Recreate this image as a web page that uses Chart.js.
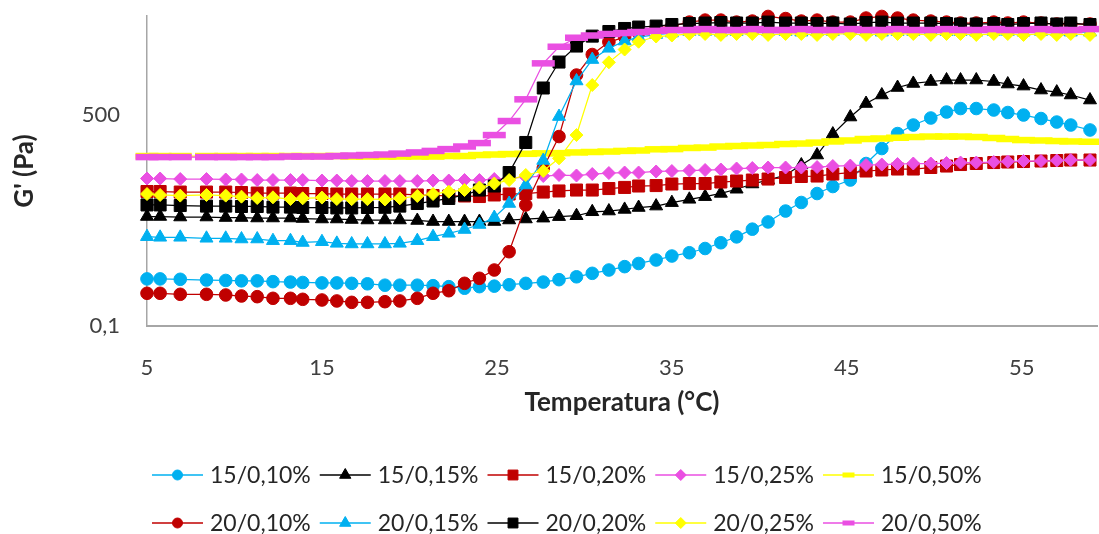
<!DOCTYPE html>
<html>
<head>
<meta charset="utf-8">
<script src="https://cdn.jsdelivr.net/npm/chart.js@4.4.1/dist/chart.umd.min.js"></script>
<style>
  html, body { margin:0; padding:0; background:#fff; overflow:hidden; }
</style>
</head>
<body>
<canvas id="chart" width="1099" height="534"></canvas>
<script>
// temperature (°C) of each measurement point
const temps = [5.0,5.75,6.9,8.4,9.5,10.4,11.3,12.2,13.2,13.9, 15.0,15.85,16.7,17.6,18.6,19.45,20.45,21.35,22.25,23.15,
  24.0,24.85,25.7,26.65,27.65,28.55,29.55,30.45,31.4,32.3, 33.1,34.1,35.0,36.0,36.9,37.8,38.7,39.6,40.5,41.5,
  42.4,43.3,44.2,45.2,46.1,47.0,47.9,48.8,49.8,50.7, 51.5,52.4,53.4,54.2,55.1,56.1,57.0,57.8,58.9];

// G' (Pa) per series
const g15_010 = [0.67,0.67,0.66,0.64,0.63,0.62,0.62,0.60,0.59,0.58, 0.57,0.57,0.56,0.55,0.52,0.52,0.52,0.51,0.49,0.46,
  0.49,0.50,0.53,0.56,0.59,0.65,0.73,0.84,0.96,1.10, 1.25,1.44,1.69,1.93,2.29,2.89,3.66,5.0,6.7,10.4,
  14.7,21.1,28.0,36.4,71,130,238,336,446,568, 654,654,616,557,503,437,379,336,275];
const g15_015 = [8.34,8.34,8.17,8.17,8.0,8.0,7.85,7.85,7.85,7.69, 7.54,7.54,7.39,7.24,7.24,7.24,7.1,6.81,6.81,6.81,
  6.81,6.81,7.24,7.54,7.8,8.3,8.6,10.1,10.4,11.1, 12.0,12.7,14.6,16.7,18.6,21.2,25.1,31.0,36.4,44.6,
  66.8,100,233,464,801,1130,1530,1800,1950,2070, 2070,2070,1950,1760,1620,1380,1270,1130,922];
const g15_020 = [22.9,22.9,22.4,22.4,22.4,22.0,21.5,21.5,21.5,21.1, 21.1,20.7,20.7,20.7,20.7,20.7,19.9,19.5,19.1,19.1,
  18.7,19.9,20.7,21.1,22.4,23.4,24.3,24.3,25.8,27.0, 28.6,29.1,31.0,31.6,31.6,33.6,35.0,36.4,37.9,40.3,
  42.0,42.8,46.4,49.3,52.4,54.6,56.8,56.8,60.4,64.1, 68.1,71.0,73.8,75.4,76.9,78.5,80.1,81.7,81.7];
const g15_025 = [38.7,38.7,37.9,37.9,37.2,37.2,36.4,36.4,36.4,36.4, 35.7,35.7,35.0,35.0,35.0,35.0,35.0,35.7,35.7,36.4,
  36.4,37.9,39.5,41.1,42.8,44.6,43.7,46.4,48.3,49.3, 49.3,51.4,52.4,53.5,54.6,55.7,58.0,59.1,60.4,60.4,
  60.4,61.5,64.1,65.3,66.8,68.1,69.5,71.0,71.0,72.4, 73.8,73.8,75.4,76.9,78.5,78.5,80.1,81.7,81.7];
const g15_050 = [96,96,96,96,96,96,96,96,96,96, 96,96,94,94,94,94,94,94,96,96,
  100,102,104,105,107,108,111,113,115,118, 120,126,127,133,135,141,144,147,150,156,
  159,165,173,180,191,195,201,207,211,211, 211,207,199,191,183,180,176,173,171];
const g20_010 = [0.375,0.375,0.36,0.36,0.35,0.336,0.327,0.306,0.306,0.294, 0.286,0.275,0.26,0.26,0.267,0.275,0.306,0.375,0.416,0.561,
  0.687,0.96,2.01,13.3,59,211,2530,5800,9600,11750, 13800,16900,18300,21500,23300,23300,21500,22400,27000,24800,
  22400,23300,21500,21500,25300,27000,25300,23300,22400,21500, 20700,20700,21500,20700,21500,20700,19900,19900,19900];
const g20_015 = [3.69,3.60,3.60,3.46,3.46,3.36,3.36,3.14,3.14,2.92, 3.01,2.82,2.75,2.75,2.75,2.82,3.14,3.69,4.23,4.93,
  6.04,8.01,14.1,29.8,80.1,473,1990,4730,7450,10000, 11750,13000,13800,14700,14700,14300,14700,15100,14700,14700,
  14300,14700,14700,15100,14700,14300,14700,14700,15100,14700, 14700,14300,14700,14700,14300,14700,14700,14300,14300];
const g20_020 = [13.3,13.3,13.0,12.7,12.7,12.5,12.5,12.2,12.2,12.0, 12.0,11.8,11.8,12.0,12.1,12.7,14.1,15.6,17.3,19.9,
  24.3,28.6,49.3,166,1500,4280,8170,12200,14700,16600, 17600,18300,19500,20300,20700,21100,20700,20700,21500,20700,
  20700,20300,20700,19900,21100,21500,20700,20700,20700,20300, 19900,19900,20300,19500,20300,20700,19900,20700,19500];
const g20_025 = [20.7,19.9,19.4,19.9,19.4,18.6,17.6,18.1,16.9,17.4, 17.9,16.9,16.8,16.8,16.6,17.4,19.1,20.7,22.7,24.3,
  26.9,31.6,36.4,44.6,52.4,87.5,224,1690,4230,7100, 9720,12000,12500,13300,13300,12800,13300,13300,12800,13300,
  13300,12800,13300,13300,12800,13300,13300,13300,12800,13300, 13300,12800,13300,13300,12800,13300,12800,13300,12800];
const g20_050 = [92,92,92,92,92,92,92,92,94,94, 94,96,98,100,102,106,111,118,127,141,
  162,224,395,949,4060,7940,11430,12500,13300,13800, 14400,15100,15600,15600,16200,15600,15600,16200,15600,15600,
  16200,15600,15600,16200,15600,15600,16200,15600,15600,16200, 15600,15600,16200,15600,15600,16200,15600,15600,16200];

const seriesLabels = ['15/0,10%','15/0,15%','15/0,20%','15/0,25%','15/0,50%',
                      '20/0,10%','20/0,15%','20/0,20%','20/0,25%','20/0,50%'];
const seriesData = [g15_010,g15_015,g15_020,g15_025,g15_050,g20_010,g20_015,g20_020,g20_025,g20_050];

const xTicks = [5,15,25,35,45,55];
const yTicks = [0.1,500];

const FONT = 'Lato, "Open Sans", sans-serif';
Chart.defaults.font.family = FONT;
Chart.defaults.color = '#404040';

// marker look (plot r / legend r)
const styles = [
  {color:'#00B0F0', point:'circle',   r:6.3, lr:5,   pw:1,   lpw:1},
  {color:'#000000', point:'triangle', r:7.5, lr:6.5, pw:1,   lpw:1},
  {color:'#C00000', point:'rect',     r:8.5, lr:7,   pw:1,   lpw:1},
  {color:'#EA4FE2', point:'rectRot',  r:6.5, lr:5.5, pw:1,   lpw:1},
  {color:'#FFFF00', point:'line',     r:11.5,lr:6,   pw:6.5, lpw:5},
  {color:'#C00000', point:'circle',   r:6.3, lr:5,   pw:1,   lpw:1},
  {color:'#00B0F0', point:'triangle', r:7.5, lr:6.5, pw:1,   lpw:1},
  {color:'#000000', point:'rect',     r:8.5, lr:7,   pw:1,   lpw:1},
  {color:'#FFFF00', point:'rectRot',  r:6.5, lr:5.5, pw:1,   lpw:1},
  {color:'#EA4FE2', point:'line',     r:11.5,lr:6,   pw:6.5, lpw:5}
];

const datasets = seriesLabels.map((label, i) => {
  const s = styles[i];
  return {
    label,
    data: temps.map((t, k) => ({x: t, y: seriesData[i][k]})),
    borderColor: s.color, backgroundColor: s.color, borderWidth: 1.25,
    pointStyle: s.point, pointRadius: s.r, pointBorderWidth: s.pw,
    pointBackgroundColor: s.color, pointBorderColor: s.color,
    tension: 0, clip: false,
    order: seriesLabels.length - i   // later series on top, like the original
  };
});

// Excel-like legend: 2 rows of 5, line through marker
const excelLegend = {
  id: 'excelLegend',
  afterDraw(chart) {
    const ctx = chart.ctx;
    ctx.save();
    chart.data.datasets.forEach((ds, i) => {
      const s = styles[i];
      const x0 = 152 + (i % 5) * 167.75;
      const y = i < 5 ? 475 : 523;
      ctx.strokeStyle = s.color; ctx.lineWidth = 1.5;
      ctx.beginPath(); ctx.moveTo(x0, y); ctx.lineTo(x0 + 51, y); ctx.stroke();
      ctx.fillStyle = s.color; ctx.lineWidth = s.lpw;
      Chart.helpers.drawPoint(ctx, {pointStyle: s.point, radius: s.lr, rotation: 0, borderWidth: s.lpw}, x0 + 25.5, y);
      ctx.fillStyle = '#262626';
      ctx.font = '23px ' + FONT;
      ctx.textBaseline = 'middle';
      ctx.textAlign = 'left';
      ctx.fillText(ds.label, x0 + 58, y + 1);
    });
    ctx.restore();
  }
};

new Chart(document.getElementById('chart'), {
  type: 'line',
  data: {datasets},
  options: {
    responsive: false, animation: false, devicePixelRatio: 1,
    layout: {autoPadding: false, padding: {top: 16, right: 2, bottom: 108, left: 0}},
    plugins: {legend: {display: false}, tooltip: {enabled: false}},
    scales: {
      x: {
        type: 'linear', min: 5, max: 59.3,
        afterBuildTicks: a => { a.ticks = xTicks.map(v => ({value: v})); },
        afterFit: s => { s.height = 100; s.paddingLeft = 0; s.paddingRight = 0; },
        grid: {display: false, drawTicks: false},
        border: {color: '#A6A6A6', width: 2},
        ticks: {padding: 29, font: {size: 22}, color: '#404040', maxRotation: 0, autoSkip: false},
        title: {display: true, text: 'Temperatura (°C)', font: {size: 26, weight: 'bold'}, color: '#262626', padding: {top: 0, bottom: 8}}
      },
      y: {
        type: 'logarithmic', min: 0.1, max: 27500,
        afterBuildTicks: a => { a.ticks = yTicks.map(v => ({value: v})); },
        afterFit: s => { s.width = 147; s.paddingTop = 0; s.paddingBottom = 0; },
        grid: {display: false, drawTicks: false},
        border: {color: '#A6A6A6', width: 1.5},
        ticks: {padding: 27, font: {size: 22}, color: '#404040', autoSkip: false,
                callback: v => String(v).replace('.', ',')},
        title: {display: true, text: "G' (Pa)", font: {size: 26, weight: 'bold'}, color: '#262626', padding: {top: 9, bottom: 0}}
      }
    }
  },
  plugins: [excelLegend]
});
</script>
</body>
</html>
